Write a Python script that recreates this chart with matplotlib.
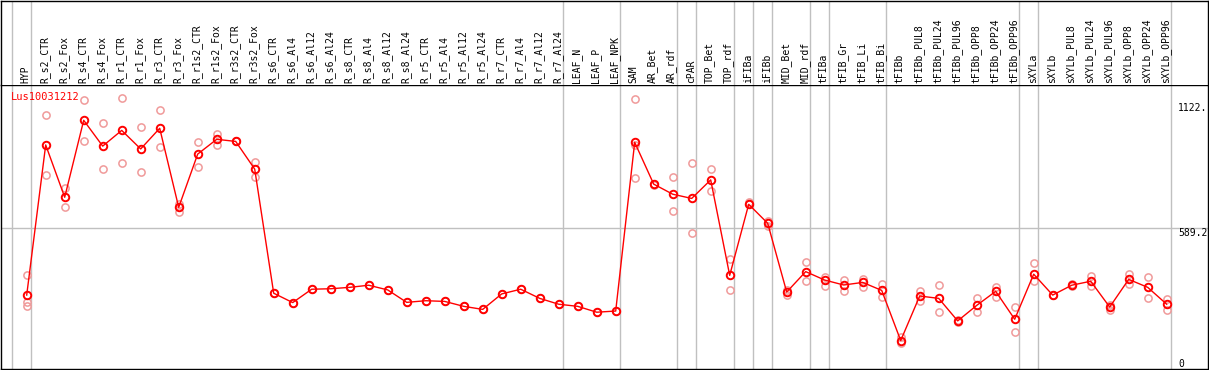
import matplotlib
matplotlib.use("Agg")
import matplotlib.pyplot as plt
import numpy as np

# samples (columns), left to right
samples = ["HYP", "R_s2_CTR", "R_s2_Fox", "R_s4_CTR", "R_s4_Fox", "R_r1_CTR",
           "R_r1_Fox", "R_r3_CTR", "R_r3_Fox", "R_r1s2_CTR", "R_r1s2_Fox",
           "R_r3s2_CTR", "R_r3s2_Fox", "R_s6_CTR", "R_s6_Al4", "R_s6_Al12",
           "R_s6_Al24", "R_s8_CTR", "R_s8_Al4", "R_s8_Al12", "R_s8_Al24",
           "R_r5_CTR", "R_r5_Al4", "R_r5_Al12", "R_r5_Al24", "R_r7_CTR",
           "R_r7_Al4", "R_r7_Al12", "R_r7_Al24", "LEAF_N", "LEAF_P", "LEAF_NPK",
           "SAM", "AR_Bet", "AR_rdf", "cPAR", "TOP_Bet", "TOP_rdf", "iFIBa",
           "iFIBb", "MID_Bet", "MID_rdf", "tFIBa", "tFIB_Gr", "tFIB_Li",
           "tFIB_Bi", "tFIBb", "tFIBb_PUL8", "tFIBb_PUL24", "tFIBb_PUL96",
           "tFIBb_OPP8", "tFIBb_OPP24", "tFIBb_OPP96", "sXYLa", "sXYLb",
           "sXYLb_PUL8", "sXYLb_PUL24", "sXYLb_PUL96", "sXYLb_OPP8",
           "sXYLb_OPP24", "sXYLb_OPP96"]

# mean expression per sample
means = [304, 944, 721, 1049, 939, 1006, 927, 1015, 678, 905, 968,
         959, 841, 312, 272, 329, 331, 337, 346, 326, 273,
         280, 277, 256, 243, 309, 329, 290, 265, 256, 231, 236,
         955, 777, 734, 716, 795, 388, 691, 610, 317, 404,
         368, 347, 358, 324, 110, 300, 290, 194, 260, 320, 201,
         393, 304, 346, 363, 253, 371, 337, 265]

# replicate values per sample
reps = [[390, 259, 275], [1072, 815], [759, 678], [1134, 959], [1036, 840],
        [1143, 866], [1019, 827], [1092, 934], [691, 660], [955, 849],
        [991, 942], [959, 959], [871, 806], [312], [272], [329], [331],
        [337], [346], [326], [273], [280], [277], [256], [243], [309],
        [329], [290], [265], [256], [231], [236],
        [1140, 942, 802], [772, 777], [806, 661], [866, 570], [840, 748],
        [456, 324], [702, 691], [621, 598], [304, 325], [444, 364],
        [380, 344], [368, 320], [374, 340], [350, 295], [127, 101],
        [320, 277], [346, 231], [197, 191], [290, 231], [340, 297],
        [252, 145], [441, 364], [304, 304], [350, 342], [385, 344],
        [263, 240], [394, 353], [381, 290], [287, 239]]

# vertical separators sit just after these column indices
group_ends = [-1, 0, 28, 31, 34, 35, 37, 38, 39, 41, 42, 45, 52, 53, 60]

gene = "Lus10031212"
tick_labels = ["1122.", "589.2", "0"]
tick_values = [1122, 589.2, 0]

W, H = 1209, 370
fig = plt.figure(figsize=(W / 100, H / 100), dpi=100)
mono = "DejaVu Sans Mono"

# pixel geometry -> data limits (column i sits at 26.7 + 19 i px)
x0, step = 26.7, 19.0
xl = (1 - x0) / step
xr = (1208 - x0) / step
y_zero, px_per = 366.4, 0.2346
yt = (y_zero - 85) / px_per
yb = (y_zero - 369) / px_per

ax = fig.add_axes([1 / W, (H - 369) / H, 1207 / W, 284 / H])
hd = fig.add_axes([1 / W, (H - 85) / H, 1207 / W, 84.5 / H])
for a in (ax, hd):
    a.set_xlim(xl, xr)
    a.set_xticks([])
    a.set_yticks([])
    for s in a.spines.values():
        s.set_color("black")
        s.set_linewidth(1.0)
    for g in group_ends:
        a.axvline(g + 0.21, color="#c0c0c0", lw=1.0, zorder=0)
hd.spines["bottom"].set_visible(False)
ax.set_ylim(yb, yt)
hd.set_ylim(0, 1)

ax.axhline(589.2, color="#c0c0c0", lw=1.0, zorder=0)

x = np.arange(len(samples))
for i, r in enumerate(reps):
    ax.plot([i] * len(r), r, ls="none", marker="o", ms=5.2, mfc="none",
            mec="#f09a9a", mew=1.1, zorder=2)
ax.plot(x, means, color="red", lw=1, zorder=3)
ax.plot(x, means, ls="none", marker="o", ms=5.4, mfc="none", mec="red",
        mew=1.4, zorder=4)

for i, name in enumerate(samples):
    hd.text(i - 0.05, 0.02, name, rotation=90, ha="center", va="bottom",
            fontsize=7, family=mono)

# right-hand value labels, top edge on the value line
for lab, v in zip(tick_labels, tick_values):
    ax.text(60.6, max(v, 31), lab, ha="left", va="top", fontsize=7,
            family=mono, clip_on=True)

ax.text(-0.85, 1148, gene, color="red", fontsize=7.5, family=mono,
        ha="left", va="center")

fig.savefig("out.png", dpi=100)
